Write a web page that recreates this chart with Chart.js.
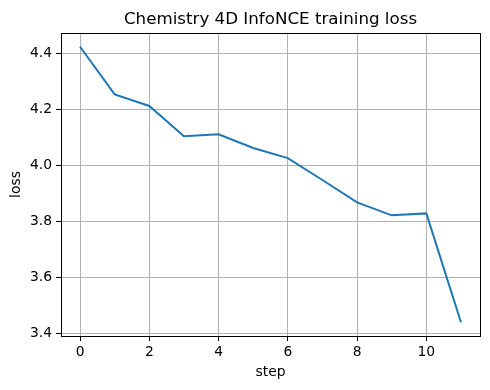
<!DOCTYPE html>
<html>
<head>
<meta charset="utf-8">
<script src="https://cdn.jsdelivr.net/npm/chart.js@4.4.1/dist/chart.umd.min.js"></script>
<style>
  html, body { margin: 0; padding: 0; background: #fff; }
  canvas { display: block; }
</style>
</head>
<body>
<canvas id="lossChart" width="490" height="390"></canvas>
<script>
const steps = [0, 1, 2, 3, 4, 5, 6, 7, 8, 9, 10, 11];
const loss = [4.423, 4.253, 4.212, 4.104, 4.111, 4.062, 4.026, 3.948, 3.868, 3.822, 3.829, 3.441];
const xTicks = [0, 2, 4, 6, 8, 10];
const yTicks = [3.4, 3.6, 3.8, 4.0, 4.2, 4.4];
const chartTitle = 'Chemistry 4D InfoNCE training loss';

const FONT = 'DejaVu Sans';

// matplotlib draws a full box round the axes, and centres the title over the axes
const frame = {
  id: 'frame',
  afterDatasetsDraw(chart) {
    const a = chart.chartArea, ctx = chart.ctx;
    ctx.save();
    ctx.strokeStyle = '#000';
    ctx.lineWidth = 1;
    ctx.strokeRect(Math.round(a.left) + 0.5, Math.round(a.top) + 0.5,
      Math.round(a.right - a.left), Math.round(a.bottom - a.top));
    ctx.fillStyle = '#000';
    ctx.font = '16.7px "' + FONT + '"';
    ctx.textAlign = 'center';
    ctx.textBaseline = 'alphabetic';
    ctx.fillText(chartTitle, (a.left + a.right) / 2, a.top - 9);
    ctx.restore();
  }
};

new Chart(document.getElementById('lossChart').getContext('2d'), {
  type: 'line',
  data: {
    datasets: [{
      label: 'loss',
      data: steps.map((s, i) => ({ x: s, y: loss[i] })),
      borderColor: '#1f77b4',
      borderWidth: 2,
      pointRadius: 0,
      tension: 0,
      fill: false
    }]
  },
  options: {
    responsive: false,
    animation: false,
    layout: { padding: { left: 0, right: 10, top: 33, bottom: 0 } },
    plugins: {
      legend: { display: false },
      tooltip: { enabled: false },
      title: { display: false }
    },
    scales: {
      x: {
        type: 'linear',
        min: -0.55,
        max: 11.55,
        afterBuildTicks: s => { s.ticks = xTicks.map(v => ({ value: v })); },
        afterFit: s => { s.height = 54; },
        ticks: { color: '#000', font: { family: FONT, size: 13.9 }, padding: 3, maxRotation: 0 },
        grid: { color: '#b0b0b0', lineWidth: 1, tickLength: 5, tickColor: '#000' },
        border: { color: '#000', width: 1 },
        title: { display: true, text: 'step', color: '#000', font: { family: FONT, size: 13.9 }, padding: { top: 0, bottom: 9 } }
      },
      y: {
        min: 3.392,
        max: 4.472,
        afterBuildTicks: s => { s.ticks = yTicks.map(v => ({ value: v })); },
        afterFit: s => { s.width = 61; },
        ticks: { color: '#000', font: { family: FONT, size: 13.9 }, padding: 4, callback: v => v.toFixed(1) },
        grid: { color: '#b0b0b0', lineWidth: 1, tickLength: 5, tickColor: '#000' },
        border: { color: '#000', width: 1 },
        title: { display: true, text: 'loss', color: '#000', font: { family: FONT, size: 13.9 }, padding: { top: 8, bottom: 0 } }
      }
    }
  },
  plugins: [frame]
});
</script>
</body>
</html>
